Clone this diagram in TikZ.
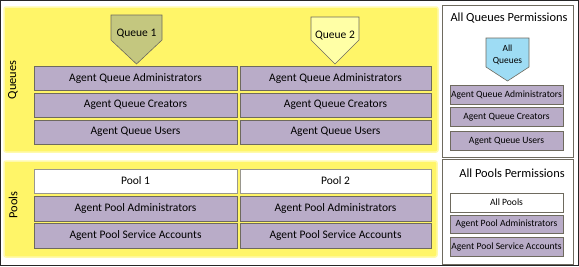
\documentclass[tikz,border=0pt]{standalone}
\usepackage{fontspec}
\setmainfont{Carlito}
\definecolor{panelyellow}{HTML}{FFF568}
\definecolor{rolepurple}{HTML}{B9ACC8}
\definecolor{queueolive}{HTML}{C4C77F}
\definecolor{queuepale}{HTML}{FFFFA6}
\definecolor{queuesky}{HTML}{9EDCF4}
\definecolor{edgegray}{HTML}{6E6A5E}

\tikzset{
  panel/.style={fill=panelyellow, draw=panelyellow!55!white, line width=1.5pt, rounded corners=2pt},
  permbox/.style={fill=white, draw=edgegray, line width=0.8pt},
  role/.style={draw=edgegray, fill=rolepurple, line width=0.8pt, inner sep=0pt, font=\fontsize{11.5}{13}\selectfont},
  poolhead/.style={role, fill=white, draw=edgegray!70},
  smallrole/.style={role, font=\fontsize{9.6}{11}\selectfont},
  tagshape/.style={draw=edgegray, line width=0.6pt},
  sidelabel/.style={rotate=90, font=\fontsize{12.4}{14}\selectfont},
  heading/.style={font=\fontsize{12.4}{14}\selectfont}
}

\begin{document}
\begin{tikzpicture}[x=1pt, y=-1pt]
  \useasboundingbox (0,0) rectangle (579,266);
  \draw[black!85, line width=1pt] (0.5,0.5) rectangle (578.5,265.5);

  % yellow areas and the two permission panels
  \draw[panel] (4,7) rectangle (438,152);
  \draw[panel] (4,161) rectangle (437,257);
  \draw[permbox] (442,5) rectangle (573,157);
  \draw[permbox] (442,159) rectangle (573,264);

  \node[sidelabel] (queuesLbl) at (13,80) {Queues};
  \node[sidelabel] (poolsLbl) at (13,205) {Pools};
  \node[heading] (allQueuesTitle) at (509,18) {All Queues Permissions};
  \node[heading] (allPoolsTitle) at (512,173) {All Pools Permissions};

  % queue tags (pointing down onto their roles)
  \foreach \cx/\hw/\tp/\sh/\tip/\col in {136.5/25.5/15/40/64/queueolive,
      335/24/17/40/64/queuepale, 507.5/21.5/38/67/81/queuesky} {
    \draw[tagshape, fill=\col] (\cx-\hw,\tp) -- (\cx+\hw,\tp) -- (\cx+\hw,\sh)
      -- (\cx,\tip) -- (\cx-\hw,\sh) -- cycle;
  }
  \node[font=\fontsize{11.5}{13}\selectfont] (queue1) at (136.5,34) {Queue 1};
  \node[font=\fontsize{11.5}{13}\selectfont] (queue2) at (335,36) {Queue 2};
  \node[font=\fontsize{9.4}{12}\selectfont, align=center] (allQueues) at (507.5,55) {All\\Queues};

  % role rows, one column per queue / pool
  \foreach \col/\cx/\w in {1/135.5/203, 2/335.5/191} {
    \foreach \row/\cy/\lbl in {1/78/Agent Queue Administrators, 2/105/Agent Queue Creators,
                               3/132/Agent Queue Users} {
      \node[role, minimum width=\w pt, minimum height=24pt] (q\col r\row) at (\cx,\cy) {\lbl};
    }
    \node[poolhead, minimum width=\w pt, minimum height=24pt] (pool\col) at (\cx,181) {Pool \col};
    \node[role, minimum width=\w pt, minimum height=25pt] (p\col r1) at (\cx,208.5) {Agent Pool Administrators};
    \node[role, minimum width=\w pt, minimum height=25pt] (p\col r2) at (\cx,235.5) {Agent Pool Service Accounts};
  }

  % roles granted on all queues / all pools
  \foreach \row/\cy/\lbl in {1/94.5/Agent Queue Administrators, 2/117/Agent Queue Creators,
                             3/141/Agent Queue Users} {
    \node[smallrole, minimum width=113pt, minimum height=19pt] (qa\row) at (506.5,\cy) {\lbl};
  }
  \node[smallrole, fill=white, minimum width=113pt, minimum height=19pt] (allPools) at (506.5,202.5) {All Pools};
  \node[smallrole, minimum width=113pt, minimum height=18pt] (pa1) at (506.5,224) {Agent Pool Administrators};
  \node[smallrole, minimum width=113pt, minimum height=19pt] (pa2) at (506.5,246.5) {Agent Pool Service Accounts};
\end{tikzpicture}
\end{document}
